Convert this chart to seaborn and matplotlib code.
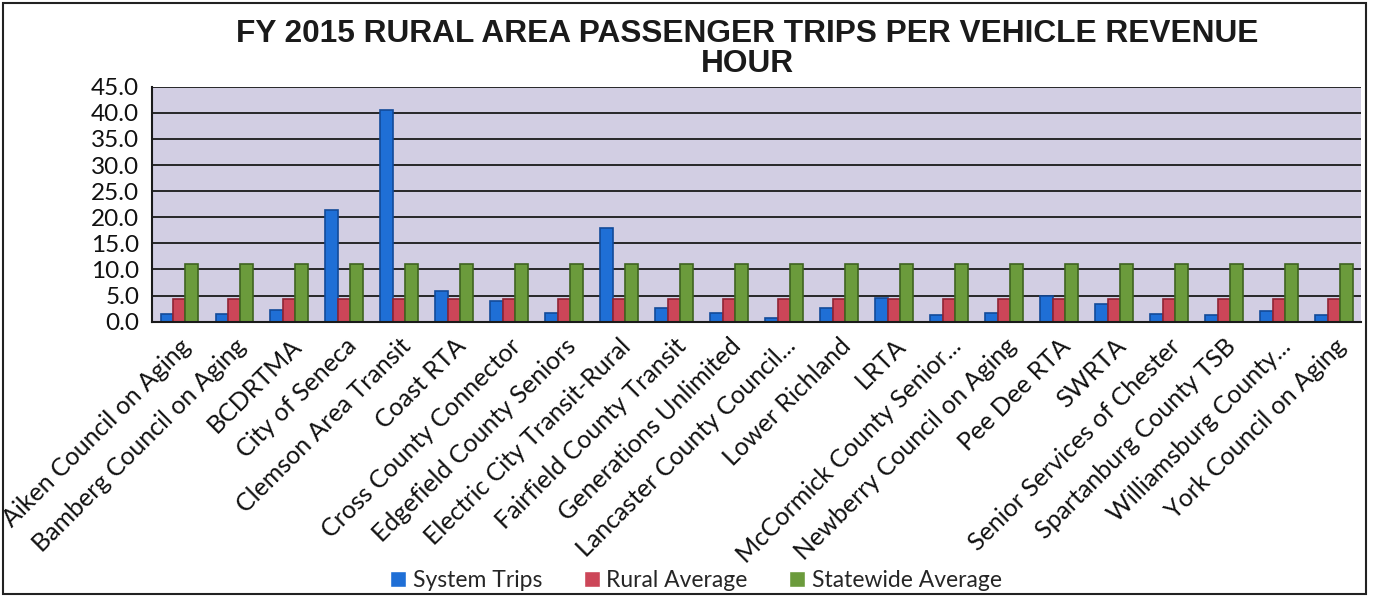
import matplotlib
matplotlib.use("Agg")
import matplotlib.pyplot as plt
import seaborn as sns
import pandas as pd
import numpy as np
from matplotlib.ticker import FormatStrFormatter, FixedLocator
from matplotlib.patches import Rectangle

categories = [
    "Aiken Council on Aging", "Bamberg Council on Aging", "BCDRTMA", "City of Seneca",
    "Clemson Area Transit", "Coast RTA", "Cross County Connector", "Edgefield County Seniors",
    "Electric City Transit-Rural", "Fairfield County Transit", "Generations Unlimited",
    "Lancaster County Council...", "Lower Richland", "LRTA", "McCormick County Senior...",
    "Newberry Council on Aging", "Pee Dee RTA", "SWRTA", "Senior Services of Chester",
    "Spartanburg County TSB", "Williamsburg County...", "York Council on Aging",
]
system_trips = [1.4, 1.4, 2.2, 21.3, 40.6, 5.9, 3.9, 1.7, 18.0, 2.6, 1.7, 0.8,
                2.7, 4.5, 1.3, 1.7, 5.0, 3.4, 1.5, 1.2, 2.1, 1.2]
rural_average = [4.4] * len(categories)
statewide_average = [11.1] * len(categories)
series_names = ["System Trips", "Rural Average", "Statewide Average"]
colors = ["#1f6fd6", "#cc4658", "#6b9b3c"]
edges = ["#124a99", "#8f2434", "#3f6420"]

df = pd.DataFrame({
    "category": categories * 3,
    "value": system_trips + rural_average + statewide_average,
    "series": sum([[s] * len(categories) for s in series_names], []),
})

sns.set_style("white")
plt.rcParams["font.family"] = ["Lato", "DejaVu Sans"]

fig = plt.figure(figsize=(13.92, 5.98), dpi=100)
ax = fig.add_axes([0.109, 0.462, 0.869, 0.393])
ax.set_facecolor("#d2cee3")

sns.barplot(data=df, x="category", y="value", hue="series", palette=colors,
            width=0.68, ax=ax, errorbar=None, saturation=1)

for container, ec in zip(ax.containers, edges):
    for bar in container:
        bar.set_edgecolor(ec)
        bar.set_linewidth(1.2)

ax.set_ylim(0, 45)
ax.set_xlim(-0.5, len(categories) - 0.5)
ax.set_yticks(np.arange(0, 46, 5))
ax.yaxis.set_major_formatter(FormatStrFormatter("%.1f"))
ax.grid(axis="y", color="#1a1a1a", linewidth=1.3)
ax.set_axisbelow(True)
for s in ["top", "right"]:
    ax.spines[s].set_visible(False)
for s in ["left", "bottom"]:
    ax.spines[s].set_color("#1a1a1a")
    ax.spines[s].set_linewidth(1.5)

ax.set_xlabel("")
ax.set_ylabel("")
ax.set_xticks(range(len(categories)))
ax.set_xticklabels(categories, rotation=45, ha="right", rotation_mode="anchor",
                   fontsize=18, color="#111111")
ax.tick_params(axis="x", which="major", length=0, pad=9)
ax.xaxis.set_minor_locator(FixedLocator(np.arange(-0.5, len(categories), 1)))
ax.tick_params(axis="x", which="minor", length=7, width=1.5, color="#1a1a1a")
ax.tick_params(axis="y", labelsize=17.5, length=5, width=1.2, color="#1a1a1a",
               labelcolor="#111111", pad=4)

sns.move_legend(ax, "lower center", bbox_to_anchor=(0.5, -0.012), bbox_transform=fig.transFigure,
                ncol=3, frameon=False, title=None, fontsize=16.5, handlelength=0.7,
                handleheight=0.7, columnspacing=1.8, handletextpad=0.3, borderpad=0.1)

fig.text(0.537, 0.968, "FY 2015 RURAL AREA PASSENGER TRIPS PER VEHICLE REVENUE\nHOUR",
         ha="center", va="top", fontsize=22.8, fontweight="bold",
         family=["Liberation Sans", "DejaVu Sans"], color="#1a1a1a", linespacing=1.0)

fig.patches.append(Rectangle((0.002, 0.006), 0.979, 0.989, transform=fig.transFigure,
                             fill=False, edgecolor="#222222", linewidth=1.5))

fig.savefig("out.png", dpi=100, facecolor="white")
